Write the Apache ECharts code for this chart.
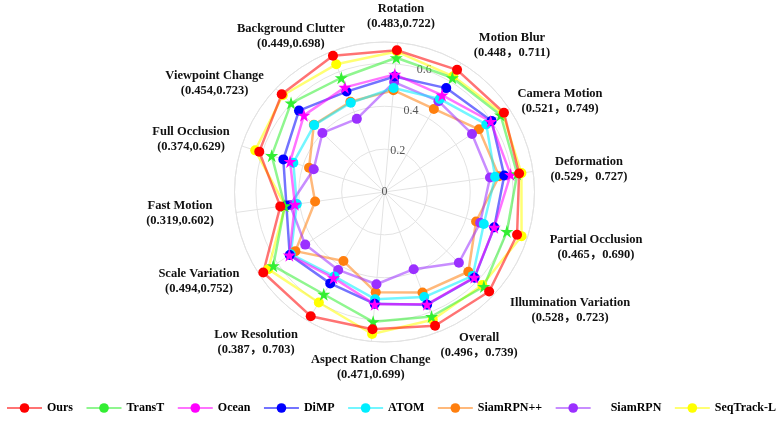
<!DOCTYPE html>
<html><head><meta charset="utf-8">
<script src="https://cdn.jsdelivr.net/npm/echarts@6/dist/echarts.min.js"></script>
<style>html,body{margin:0;padding:0;background:#fff}#c{width:778px;height:423px}</style>
</head><body><div id="c"></div>
<script>
// ---- data ----
const indicators = ['Rotation','Motion Blur','Camera Motion','Deformation','Partial Occlusion','Illumination Variation','Overall','Aspect Ration Change','Low Resolution','Scale Variation','Fast Motion','Full Occlusion','Viewpoint Change','Background Clutter'];
const ranges = ['(0.483,0.722)','(0.448，0.711)','(0.521，0.749)','(0.529，0.727)','(0.465，0.690)','(0.528，0.723)','(0.496，0.739)','(0.471,0.699)','(0.387，0.703)','(0.494,0.752)','(0.319,0.602)','(0.374,0.629)','(0.454,0.723)','(0.449,0.698)'];
const radialTicks = [0, 0.2, 0.4, 0.6];
const trackers = ['Ours','TransT','Ocean','DiMP','ATOM','SiamRPN++','SiamRPN','SeqTrack-L'];
const ours      = [0.664,0.663,0.669,0.634,0.650,0.674,0.667,0.643,0.674,0.679,0.491,0.614,0.662,0.680];
const transT    = [0.629,0.620,0.650,0.625,0.600,0.640,0.621,0.608,0.555,0.623,0.470,0.553,0.602,0.570];
const ocean     = [0.551,0.526,0.595,0.594,0.538,0.578,0.560,0.526,0.466,0.533,0.422,0.463,0.519,0.522];
const dimp      = [0.541,0.564,0.600,0.564,0.538,0.580,0.562,0.524,0.496,0.531,0.462,0.496,0.551,0.501];
const atom      = [0.487,0.505,0.570,0.521,0.487,0.568,0.524,0.502,0.458,0.525,0.413,0.447,0.453,0.445];
const siamrpnpp = [0.477,0.451,0.529,0.540,0.449,0.540,0.501,0.470,0.375,0.499,0.327,0.370,0.455,0.450];
const siamrpn   = [0.515,0.493,0.490,0.497,0.469,0.479,0.385,0.432,0.423,0.444,0.445,0.347,0.400,0.365];
const seqtrack  = [0.658,0.628,0.662,0.645,0.672,0.630,0.637,0.665,0.600,0.651,0.468,0.634,0.655,0.637];
const values = [ours, transT, ocean, dimp, atom, siamrpnpp, siamrpn, seqtrack];

// ---- styles ----
const colors = ['#ff0000','#33ee33','#ff00ff','#0000ff','#00eeff','#ff7f0e','#9b30ff','#ffff00'];
const starSeries = ['TransT','Ocean'];
const STAR = 'path://M50,0L61.2,34.5L97.6,34.5L68.2,55.9L79.4,90.5L50,69.1L20.6,90.5L31.8,55.9L2.4,34.5L38.8,34.5Z';
const drawOrder = [7,5,6,4,3,2,1,0];
const serif = "'Liberation Serif','Times New Roman','Noto Sans CJK SC',serif";
// per-label fine placement [top,right,bottom,left]
const labelPad = [
  [0,-2.7,3.1,2.7],[0,0,-3.9,-18.2],[0,0,-11.4,-21.1],[-1.4,0,1.4,-17.1],
  [-8.5,0,0,-3.9],[-6,0,0,6.1],[-9.9,0,0,-26.3],[2.6,0,0,0],
  [-0.9,-17.2,0,0],[-13.4,-11.1,0,0],[-0.6,-17,0.6,0],[0,-21.9,-10.5,0],
  [0,-9.6,-15.3,0],[0,-27.3,-6.8,0]
];
const C = [384.5, 192], R = 150, N = indicators.length;
const grid = '#e3e3e3';

const catData = indicators.map((n, i) => ({ value: n, textStyle: { padding: labelPad[i] } }));

const series = drawOrder.map(i => {
  const star = starSeries.includes(trackers[i]);
  const v = values[i];
  const pts = v.map((r, k) => ({ value: [r, k], symbol: star ? STAR : 'circle', symbolSize: star ? 13 : 10 }));
  pts.push({ value: [v[0], N], symbol: 'none' });
  return {
    type: 'line', name: trackers[i], coordinateSystem: 'polar', polarIndex: 0,
    data: pts, symbol: 'circle', symbolSize: 10, showAllSymbol: true,
    lineStyle: { color: colors[i], width: 2.5, opacity: 0.55 },
    itemStyle: { color: colors[i], opacity: 1 },
    emphasis: { disabled: true }
  };
});

const chart = echarts.init(document.getElementById('c'));
chart.setOption({
  animation: false,
  polar: [{ center: C, radius: R }, { center: C, radius: R }, { center: C, radius: R }],
  angleAxis: [
    { polarIndex: 0, type: 'value', min: 0, max: N, interval: 1, startAngle: 85, clockwise: true,
      axisLine: { show: true, lineStyle: { color: grid, width: 1 } }, axisTick: { show: false },
      axisLabel: { show: false }, splitLine: { show: true, lineStyle: { color: grid, width: 1 } } },
    { polarIndex: 1, type: 'category', data: catData, boundaryGap: true, startAngle: 85 + 180 / N, clockwise: true,
      axisLine: { show: false }, axisTick: { show: false }, splitLine: { show: false },
      axisLabel: { show: true, margin: 8,
        formatter: (name) => '{n|' + name + '}\n{v|' + ranges[indicators.indexOf(name)] + '}',
        rich: {
          n: { fontFamily: serif, fontWeight: 'bold', fontSize: 12.5, color: '#111', width: 130, align: 'center', lineHeight: 15 },
          v: { fontFamily: serif, fontWeight: 'bold', fontSize: 12.5, color: '#111', width: 130, align: 'center', lineHeight: 15 }
        } } },
    { polarIndex: 2, type: 'value', min: 0, max: 1, startAngle: 72, clockwise: true,
      axisLine: { show: false }, axisTick: { show: false }, axisLabel: { show: false }, splitLine: { show: false } }
  ],
  radiusAxis: [
    { polarIndex: 0, type: 'value', min: 0, max: 0.7, interval: 0.2,
      axisLine: { show: false }, axisTick: { show: false }, axisLabel: { show: false },
      splitLine: { show: true, lineStyle: { color: grid, width: 1 } } },
    { polarIndex: 1, type: 'value', min: 0, max: 0.7,
      axisLine: { show: false }, axisTick: { show: false }, axisLabel: { show: false }, splitLine: { show: false } },
    { polarIndex: 2, type: 'value', min: 0, max: 0.7, interval: 0.2,
      axisLine: { show: false }, axisTick: { show: false }, splitLine: { show: false },
      axisLabel: { show: true, margin: 0, align: 'center', verticalAlign: 'middle', color: '#555',
        fontFamily: serif, fontSize: 12, hideOverlap: false,
        formatter: v => radialTicks.some(t => Math.abs(t - v) < 1e-6) ? String(+v.toFixed(1)) : '' } }
  ],
  legend: {
    data: trackers, left: 6, top: 402, padding: 0, itemWidth: 35, itemHeight: 12, itemGap: 12.5,
    textStyle: { fontFamily: serif, fontWeight: 'bold', fontSize: 12, color: '#000' },
    formatter: n => n === 'SiamRPN' ? '     SiamRPN' : n
  },
  series: series
});
</script></body></html>
